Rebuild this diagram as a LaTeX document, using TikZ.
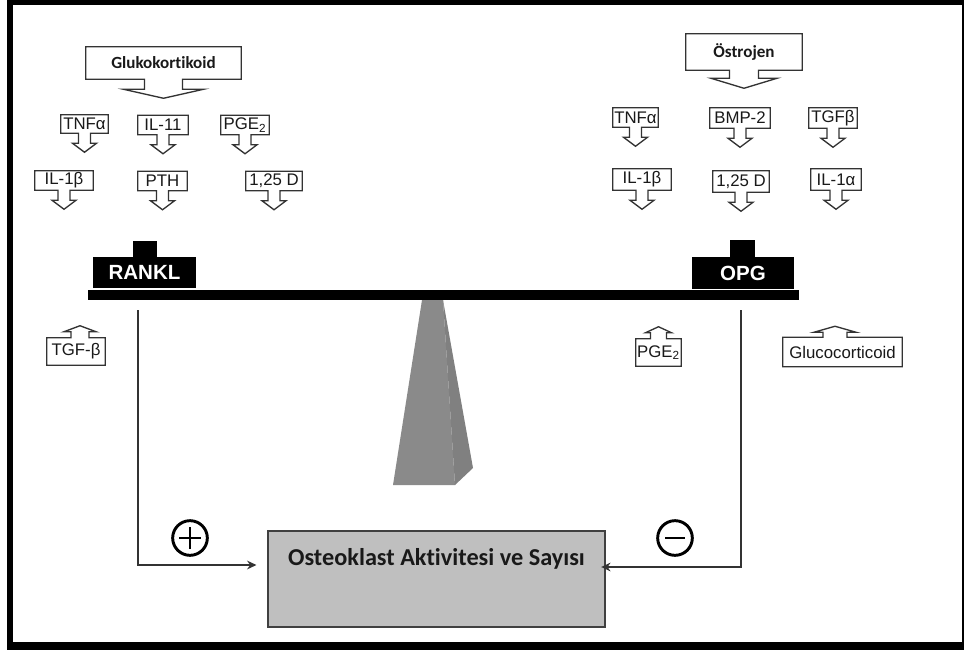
\documentclass[tikz,border=0pt]{standalone}
\usepackage{fontspec}
\setmainfont{Liberation Sans}
\newfontfamily\carlito[Ligatures=NoCommon]{Carlito}
\usetikzlibrary{calc,arrows.meta}

\tikzset{
  lbl/.style={inner sep=0pt, font=\fontsize{12.6}{13}\selectfont, text=black!90},
  headlbl/.style={inner sep=0pt, font=\carlito\bfseries\fontsize{12.8}{14}\selectfont, text=black!90},
  calloutline/.style={draw=black!80, line width=1pt, line join=miter},
  weight/.style={fill=black, text=white, inner sep=0pt, font=\bfseries\fontsize{15.4}{16}\selectfont},
  weighttop/.style={fill=black, inner sep=0pt},
  conn/.style={draw=black!80, line width=1.5pt, -{Stealth[length=7pt,width=6.5pt]}},
  sign/.style={circle, draw=black, line width=2.2pt, minimum size=26pt, inner sep=0pt},
  resultbox/.style={draw=black!75, line width=1.3pt, fill=black!25},
  resulttext/.style={inner sep=0pt, font=\carlito\bfseries\fontsize{18.2}{20}\selectfont, text=black!90},
}

% arrow geometry of the callouts: x offset, stem half width, stem length, head half width, head length
\newcommand\cdims[5]{\def\cdx{#1}\def\csw{#2}\def\csl{#3}\def\chw{#4}\def\chl{#5}}

% box with a downward arrow: name, style, x, y, width, height, text
\newcommand\downcallout[7]{%
  \node[#2, minimum width={#5*0.75pt}, minimum height={#6*0.75pt}] (#1) at (#3,#4) {#7};
  \draw[calloutline] (#1.north west) -- (#1.north east) -- (#1.south east)
    -- ($(#1.south)+(\cdx+\csw,0)$) -- ($(#1.south)+(\cdx+\csw,\csl)$)
    -- ($(#1.south)+(\cdx+\chw,\csl)$) -- ($(#1.south)+(\cdx,\csl+\chl)$)
    -- ($(#1.south)+(\cdx-\chw,\csl)$) -- ($(#1.south)+(\cdx-\csw,\csl)$)
    -- ($(#1.south)+(\cdx-\csw,0)$) -- (#1.south west) -- cycle;
}

% box with an upward arrow: name, style, x, y, width, height, text
\newcommand\upcallout[7]{%
  \node[#2, minimum width={#5*0.75pt}, minimum height={#6*0.75pt}] (#1) at (#3,#4) {#7};
  \draw[calloutline] (#1.south west) -- (#1.south east) -- (#1.north east)
    -- ($(#1.north)+(\cdx+\csw,0)$) -- ($(#1.north)+(\cdx+\csw,-\csl)$)
    -- ($(#1.north)+(\cdx+\chw,-\csl)$) -- ($(#1.north)+(\cdx,-\csl-\chl)$)
    -- ($(#1.north)+(\cdx-\chw,-\csl)$) -- ($(#1.north)+(\cdx-\csw,-\csl)$)
    -- ($(#1.north)+(\cdx-\csw,0)$) -- (#1.north west) -- cycle;
}

\begin{document}
\begin{tikzpicture}[x=0.75pt,y=-0.75pt]
  % page and frame
  \fill[white] (0,0) rectangle (964,650);
  \useasboundingbox (0,0) rectangle (964,650);
  \fill[black] (7,0) rectangle (964,650);
  \fill[white] (13,5) rectangle (962,642);

  % ---- left side: factors raising RANKL ----
  \cdims{0}{19}{10}{40}{9}
  \downcallout{gluko}{headlbl}{163.5}{63}{155}{32}{Glukokortikoid}
  \cdims{0}{6}{10}{12}{9}
  \downcallout{ltnf}{lbl}{84.5}{124}{47}{18}{TNFα}
  \downcallout{lil11}{lbl}{163}{125}{50}{19}{IL-11}
  \downcallout{lpge}{lbl}{245}{125}{48}{19}{PGE\textsubscript{2}}
  \downcallout{lil1b}{lbl}{64}{180.5}{58}{19}{IL-1β}
  \downcallout{lpth}{lbl}{162.5}{181}{49}{19}{PTH}
  \downcallout{lvitd}{lbl}{274}{181}{56}{19}{1,25 D}

  % ---- right side: factors raising OPG ----
  \cdims{0}{14.5}{8}{33}{10}
  \downcallout{ostro}{headlbl}{744}{52}{116}{36}{Östrojen}
  \cdims{0}{6}{10}{12}{9}
  \downcallout{rtnf}{lbl}{635.5}{117.5}{45}{19}{TNFα}
  \downcallout{rbmp}{lbl}{740}{118}{60}{20}{BMP-2}
  \downcallout{rtgf}{lbl}{833}{118}{48}{20}{TGFβ}
  \downcallout{ril1b}{lbl}{642}{179.5}{58}{21}{IL-1β}
  \downcallout{rvitd}{lbl}{741}{181.5}{56}{21}{1,25 D}
  \downcallout{ril1a}{lbl}{836}{179.5}{50}{21}{IL-1α}

  % ---- inhibitors below the beam ----
  \cdims{4}{9}{6}{16}{6}
  \upcallout{ltgf}{lbl}{76}{351.5}{58}{27}{TGF-β}
  \cdims{0}{8}{6}{13}{6}
  \upcallout{rpge}{lbl}{658.5}{352.5}{45}{27}{PGE\textsubscript{2}}
  \cdims{-7.5}{12}{5}{21}{6}
  \upcallout{rgluco}{lbl}{842.5}{352}{119}{29}{Glucocorticoid}

  % ---- fulcrum ----
  \fill[black!46] (422,300) -- (443,300) -- (455,485) -- (393,485) -- cycle;
  \fill[black!50] (443,300) -- (473,468) -- (455,485) -- cycle;

  % ---- beam and weights ----
  \fill[black] (88,290) rectangle (799,300);
  \node[weight, minimum width={103*0.75pt}, minimum height={31*0.75pt}] (rankl) at (144.5,272.5) {RANKL};
  \node[weighttop, minimum width={24*0.75pt}, minimum height={17*0.75pt}] (rankltop) at (145,249) {};
  \node[weight, minimum width={102*0.75pt}, minimum height={32*0.75pt}] (opg) at (743,273) {OPG};
  \node[weighttop, minimum width={25*0.75pt}, minimum height={18*0.75pt}] (opgtop) at (742.5,248.5) {};

  % ---- result ----
  \node[resultbox, minimum width={337*0.75pt}, minimum height={96*0.75pt}] (box) at (436.5,579) {};
  \node[resulttext] (boxtext) at (436.5,559) {Osteoklast Aktivitesi ve Sayısı};

  % ---- connectors ----
  \coordinate (rankldrop) at (138,310);
  \coordinate (opgdrop) at (741,310);
  \draw[conn, shorten >=8pt] (rankldrop) |- ($(box.west)+(0,-14)$);
  \draw[conn, shorten >=-3.5pt] (opgdrop) |- ($(box.east)+(0,-12)$);

  % ---- signs ----
  \node[sign] (plus) at (190,538) {};
  \draw[line width=0.9pt] ($(plus.center)+(-11,0)$) -- ($(plus.center)+(11,0)$);
  \draw[line width=0.9pt] ($(plus.center)+(0,-11)$) -- ($(plus.center)+(0,11)$);
  \node[sign] (minus) at (675,538) {};
  \draw[line width=1.8pt] ($(minus.center)+(-10,0)$) -- ($(minus.center)+(10,0)$);
\end{tikzpicture}
\end{document}
